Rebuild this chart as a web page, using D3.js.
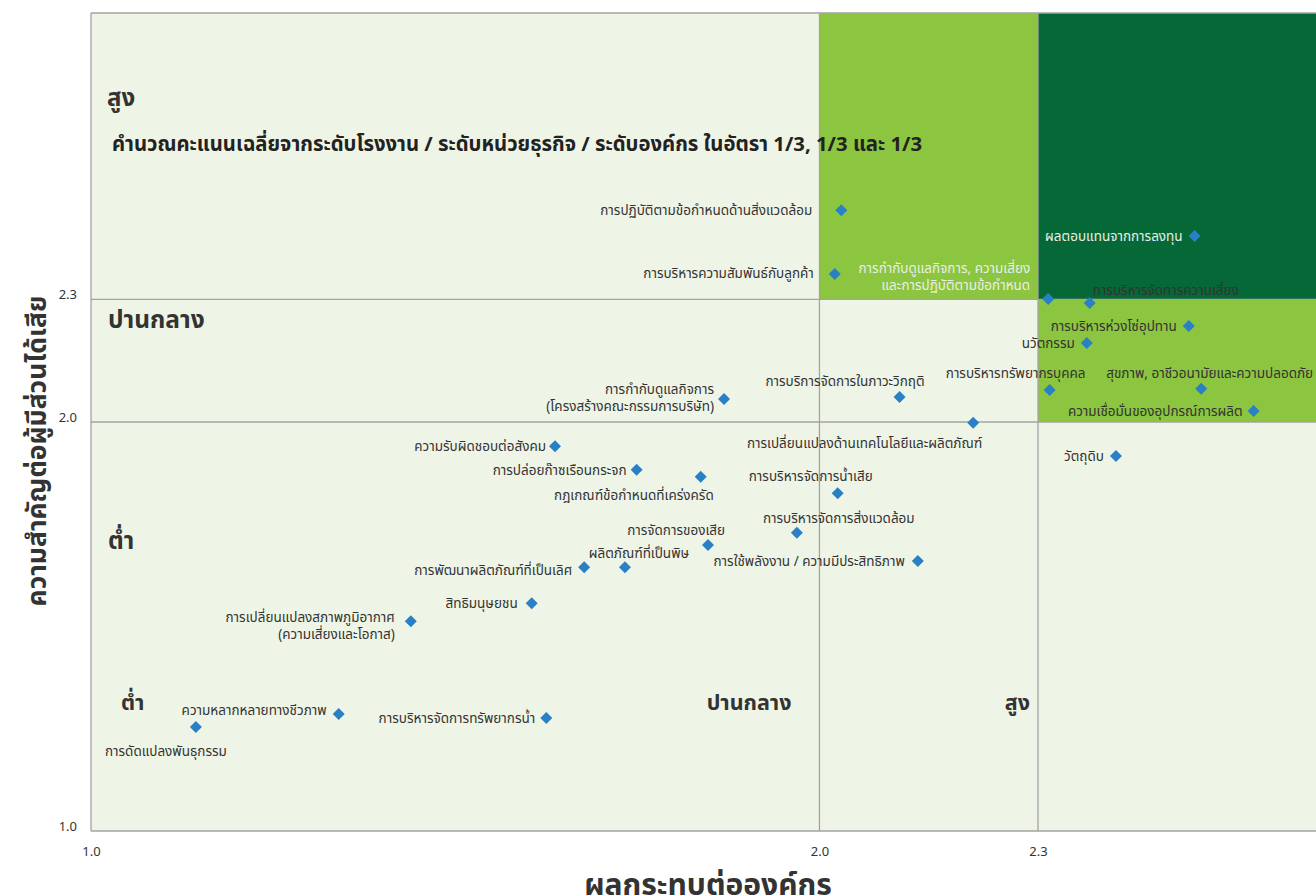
<!DOCTYPE html>
<html><head><meta charset="utf-8">
<script src="https://cdn.jsdelivr.net/npm/d3@7"></script>
<style>
body{margin:0;background:#fff;}
text{font-family:"Noto Sans","Noto Sans Thai",Roboto,sans-serif;}
</style></head>
<body><svg id="c" width="1316" height="895"></svg>
<script>
// ---- data ----
const topics = [
 "การปฏิบัติตามข้อกำหนดด้านสิ่งแวดล้อม",
 "การบริหารความสัมพันธ์กับลูกค้า",
 "การกำกับดูแลกิจการ, ความเสี่ยง\nและการปฏิบัติตามข้อกำหนด",
 "ผลตอบแทนจากการลงทุน",
 "การบริหารจัดการความเสี่ยง",
 "การบริหารห่วงโซ่อุปทาน",
 "นวัตกรรม",
 "การบริหารทรัพยากรบุคคล",
 "สุขภาพ, อาชีวอนามัยและความปลอดภัย",
 "ความเชื่อมั่นของอุปกรณ์การผลิต",
 "วัตถุดิบ",
 "การเปลี่ยนแปลงด้านเทคโนโลยีและผลิตภัณฑ์",
 "การบริการจัดการในภาวะวิกฤติ",
 "การกำกับดูแลกิจการ\n(โครงสร้างคณะกรรมการบริษัท)",
 "ความรับผิดชอบต่อสังคม",
 "การปล่อยก๊าซเรือนกระจก",
 "กฎเกณฑ์ข้อกำหนดที่เคร่งครัด",
 "การบริหารจัดการน้ำเสีย",
 "การบริหารจัดการสิ่งแวดล้อม",
 "การจัดการของเสีย",
 "การใช้พลังงาน / ความมีประสิทธิภาพ",
 "ผลิตภัณฑ์ที่เป็นพิษ",
 "การพัฒนาผลิตภัณฑ์ที่เป็นเลิศ",
 "สิทธิมนุษยชน",
 "การเปลี่ยนแปลงสภาพภูมิอากาศ\n(ความเสี่ยงและโอกาส)",
 "ความหลากหลายทางชีวภาพ",
 "การบริหารจัดการทรัพยากรน้ำ",
 "การดัดแปลงพันธุกรรม"
];
const impactOrg = [2.03,2.021,2.314,2.515,2.371,2.507,2.367,2.316,2.524,2.596,2.407,2.211,2.11,1.869,1.637,1.749,1.837,2.025,1.969,1.847,2.135,1.733,1.677,1.605,1.439,1.34,1.625,1.144];
const importanceStake = [2.518,2.362,2.301,2.455,2.291,2.235,2.193,2.078,2.081,2.027,1.917,1.998,2.061,2.056,1.941,1.883,1.866,1.826,1.729,1.699,1.66,1.645,1.645,1.557,1.513,1.286,1.276,1.254];
const xTicks = [1.0, 2.0, 2.3];
const yTicks = [1.0, 2.0, 2.3];
const xTitle = "ผลกระทบต่อองค์กร";
const yTitle = "ความสำคัญต่อผู้มีส่วนได้เสีย";
const note = "คำนวณคะแนนเฉลี่ยจากระดับโรงงาน / ระดับหน่วยธุรกิจ / ระดับองค์กร ในอัตรา 1/3, 1/3 และ 1/3";
const levelLabels = ["ต่ำ","ปานกลาง","สูง"];

// ---- label layout (anchor, dx, dy) ----
const labelLayout = [
 ["end",-29,0],["end",-21,-1],["end",-18,-31],["end",-12,0],["start",3,-13],
 ["end",-12,0],["end",-12,0],["middle",-34,-17],["start",-95,-16],["end",-11,0],
 ["end",-12,0],["end",9,20],["end",25,-16],["end",-10,-10],["end",-9,0],
 ["end",-10,0],["end",13,18],["end",35,-17],["start",-34,-15],["end",17,-15],
 ["end",-13,0],["middle",14,-14],["end",-12,3],["end",-14,0],["end",-16,-4],
 ["end",-12,-4],["end",-11,0],["middle",-30,24]
];

const svg = d3.select("#c");
const x = d3.scaleLinear().domain([1.0, 2.3]).range([91, 1038]);
const y = d3.scaleLinear().domain([1.0, 3.0]).range([831, 13]);
const xMax = 2.7, yMax = 3.0;

const cLight = "#eff5e6", cMid = "#8cc53f", cDark = "#066837", cGrid = "#a3a3a3";

// background
svg.append("rect").attr("x", x(1)).attr("y", y(yMax)).attr("width", x(xMax)-x(1)).attr("height", y(1)-y(yMax)).attr("fill", cLight);
const zones = [
 {x0:2.0,x1:2.3,y0:2.3,y1:yMax,c:cMid},
 {x0:2.3,x1:xMax,y0:2.3,y1:yMax,c:cDark},
 {x0:2.3,x1:xMax,y0:2.0,y1:2.3,c:cMid}
];
svg.selectAll("rect.z").data(zones).join("rect").attr("class","z")
 .attr("x",d=>x(d.x0)).attr("y",d=>y(d.y1)).attr("width",d=>x(d.x1)-x(d.x0)).attr("height",d=>y(d.y0)-y(d.y1)).attr("fill",d=>d.c);

// grid lines
[2.0,2.3].forEach(v=>{
 svg.append("line").attr("x1",x(v)).attr("x2",x(v)).attr("y1",y(yMax)).attr("y2",y(1)).attr("stroke",cGrid).attr("stroke-width",1.3);
 svg.append("line").attr("x1",x(1)).attr("x2",x(xMax)).attr("y1",y(v)).attr("y2",y(v)).attr("stroke",cGrid).attr("stroke-width",1.3);
});
// border
svg.append("line").attr("x1",x(1)).attr("x2",x(1)).attr("y1",y(yMax)).attr("y2",y(1)).attr("stroke",cGrid).attr("stroke-width",1.3);
svg.append("line").attr("x1",x(1)).attr("x2",x(xMax)).attr("y1",y(yMax)).attr("y2",y(yMax)).attr("stroke",cGrid).attr("stroke-width",1.3);
svg.append("line").attr("x1",x(1)).attr("x2",x(xMax)).attr("y1",y(1)).attr("y2",y(1)).attr("stroke",cGrid).attr("stroke-width",1.3);

// axes
const fmt = d3.format(".1f");
const gx = svg.append("g").attr("transform",`translate(0,${y(1)})`)
 .call(d3.axisBottom(x).tickValues(xTicks).tickFormat(fmt).tickSize(0).tickPadding(16));
gx.select(".domain").remove();
gx.selectAll("text").attr("font-family","Roboto,sans-serif").attr("font-size",13).attr("fill","#333");
const gy = svg.append("g").attr("transform",`translate(${x(1)},0)`)
 .call(d3.axisLeft(y).tickValues(yTicks).tickFormat(fmt).tickSize(0).tickPadding(14));
gy.select(".domain").remove();
gy.selectAll("text").attr("font-family","Roboto,sans-serif").attr("font-size",13).attr("fill","#333").attr("dy","-0.05em");

// axis titles
svg.append("text").attr("x",708).attr("y",883).attr("text-anchor","middle").attr("dominant-baseline","central").attr("font-size",30).attr("font-weight","bold").attr("fill","#333").text(xTitle);
svg.append("text").attr("transform","translate(36,451) rotate(-90)").attr("text-anchor","middle").attr("dominant-baseline","central").attr("font-size",26.5).attr("font-weight","bold").attr("fill","#333").text(yTitle);

// level labels
const lvl = svg.append("g").attr("font-weight","bold").attr("fill","#333");
lvl.append("text").attr("font-size",24).attr("x",x(1)+16).attr("y",y(2.795)).attr("dominant-baseline","central").text(levelLabels[2]);
lvl.append("text").attr("font-size",24.5).attr("x",x(1)+17).attr("y",y(2.254)).attr("dominant-baseline","central").text(levelLabels[1]);
lvl.append("text").attr("font-size",24).attr("x",x(1)+17).attr("y",y(1.712)).attr("dominant-baseline","central").text(levelLabels[0]);
lvl.append("text").attr("font-size",21.5).attr("x",x(1)+30).attr("y",y(1.316)).attr("dominant-baseline","central").text(levelLabels[0]);
lvl.append("text").attr("font-size",21.5).attr("x",x(2.0)-28).attr("y",y(1.316)).attr("text-anchor","end").attr("dominant-baseline","central").text(levelLabels[1]);
lvl.append("text").attr("font-size",21.5).attr("x",x(2.3)-8).attr("y",y(1.316)).attr("text-anchor","end").attr("dominant-baseline","central").text(levelLabels[2]);

// note
svg.append("text").attr("x",x(1)+21).attr("y",y(2.683)).attr("dominant-baseline","central").attr("font-size",20.3).attr("font-weight","bold").attr("fill","#222").text(note);

// points
const pts = topics.map((t,i)=>({t, xv:impactOrg[i], yv:importanceStake[i], lay:labelLayout[i]}));
svg.selectAll("path.pt").data(pts).join("path").attr("class","pt")
 .attr("d", d3.symbol().type(d3.symbolSquare).size(72))
 .attr("transform", d=>`translate(${x(d.xv)},${y(d.yv)}) rotate(45)`)
 .attr("fill","#2a80c4");

const inDark = d=> d.xv>=2.3 && d.yv>=2.3;
const lab = svg.selectAll("text.lab").data(pts).join("text").attr("class","lab")
 .attr("font-size",13.5).attr("fill",d=>inDark(d)?"#e9efe6":"#333")
 .attr("text-anchor",d=>d.lay[0])
 .attr("dominant-baseline","central");
lab.each(function(d){
 const lines = d.t.split("\n");
 const sel = d3.select(this);
 lines.forEach((ln,k)=>{
   sel.append("tspan").attr("x", x(d.xv)+d.lay[1]).attr("y", y(d.yv)+d.lay[2]+k*17).text(ln);
 });
});
</script></body></html>
